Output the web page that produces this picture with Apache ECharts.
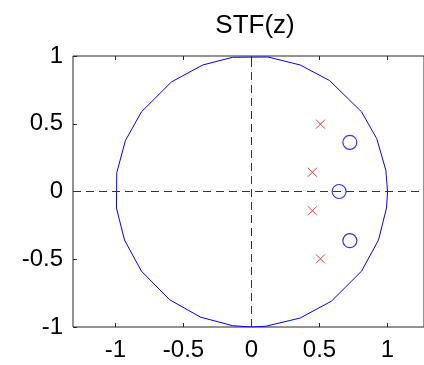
<!DOCTYPE html>
<html>
<head>
<meta charset="utf-8">
<script src="https://cdn.jsdelivr.net/npm/echarts@6/dist/echarts.min.js"></script>
<style>
html,body{margin:0;padding:0;background:#fff;}
#c{width:424px;height:365px;}
</style>
</head>
<body>
<div id="c"></div>
<script>
// Unit circle vertex angles (degrees), as drawn in the reference polygon
const circleAngles = [0, 9, 23, 36, 55, 69, 83, 98, 111, 126, 144, 158, 172, 187, 201, 216, 233, 248, 262, 270, 276, 291, 306, 324, 339, 353, 360];
// Poles (x markers)
const polesRe = [0.507, 0.448, 0.448, 0.507];
const polesIm = [0.497, 0.142, -0.142, -0.497];
// Zeros (o markers)
const zerosRe = [0.723, 0.644, 0.723];
const zerosIm = [0.363, 0, -0.363];
// Ticks
const xTicks = [-1, -0.5, 0, 0.5, 1];
const yTicks = [-1, -0.5, 0, 0.5, 1];
const titleText = 'STF(z)';

const circleData = circleAngles.map(a => [Math.cos(a * Math.PI / 180), Math.sin(a * Math.PI / 180)]);
const poleData = polesRe.map((r, i) => [r, polesIm[i]]);
const zeroData = zerosRe.map((r, i) => [r, zerosIm[i]]);

const FONT = 'Liberation Sans, Arial, sans-serif';
const xMin = -1.312, xMax = 1.268;

const chart = echarts.init(document.getElementById('c'), null, {renderer: 'canvas'});
chart.setOption({
  animation: false,
  backgroundColor: '#ffffff',
  title: {
    text: titleText,
    left: 250, top: 8, textAlign: 'center',
    textStyle: {fontFamily: FONT, fontSize: 26, fontWeight: 'normal', color: '#000'}
  },
  grid: {left: 73, top: 56, bottom: 38, right: 0, show: true, borderColor: '#262626', borderWidth: 1, backgroundColor: 'transparent'},
  xAxis: [{
    type: 'value', min: xMin, max: xMax, position: 'bottom',
    axisLine: {show: false, onZero: false},
    axisTick: {show: true, inside: true, length: 4, customValues: xTicks, lineStyle: {color: '#262626'}},
    axisLabel: {show: true, customValues: xTicks, margin: 11, fontFamily: FONT, fontSize: 24, color: '#000'},
    splitLine: {show: false}
  }, {
    type: 'value', min: xMin, max: xMax, position: 'top',
    axisLine: {show: false, onZero: false},
    axisTick: {show: true, inside: true, length: 4, customValues: xTicks, lineStyle: {color: '#262626'}},
    axisLabel: {show: false},
    splitLine: {show: false}
  }],
  yAxis: [{
    type: 'value', min: -1, max: 1, interval: 0.5, position: 'left',
    axisLine: {show: false, onZero: false},
    axisTick: {show: true, inside: true, length: 4, lineStyle: {color: '#262626'}},
    axisLabel: {show: true, margin: 10, fontFamily: FONT, fontSize: 24, color: '#000'},
    splitLine: {show: false}
  }],
  series: [{
    type: 'line',
    data: circleData,
    showSymbol: false,
    symbol: 'none',
    lineStyle: {color: '#0000ff', width: 1},
    silent: true,
    z: 2,
    markLine: {
      silent: true,
      symbol: ['none', 'none'],
      label: {show: false},
      lineStyle: {color: '#333333', type: [8, 5], width: 1},
      data: [{xAxis: 0}, {yAxis: 0}]
    }
  }, {
    type: 'scatter',
    data: poleData,
    symbol: 'path://M0,0L10,10M10,0L0,10',
    symbolSize: 9,
    itemStyle: {color: 'transparent', borderColor: '#ff0000', borderWidth: 1},
    silent: true,
    z: 3
  }, {
    type: 'scatter',
    data: zeroData,
    symbol: 'circle',
    symbolSize: 14,
    itemStyle: {color: 'transparent', borderColor: '#0000ff', borderWidth: 1.2},
    silent: true,
    z: 3
  }]
});
</script>
</body>
</html>
